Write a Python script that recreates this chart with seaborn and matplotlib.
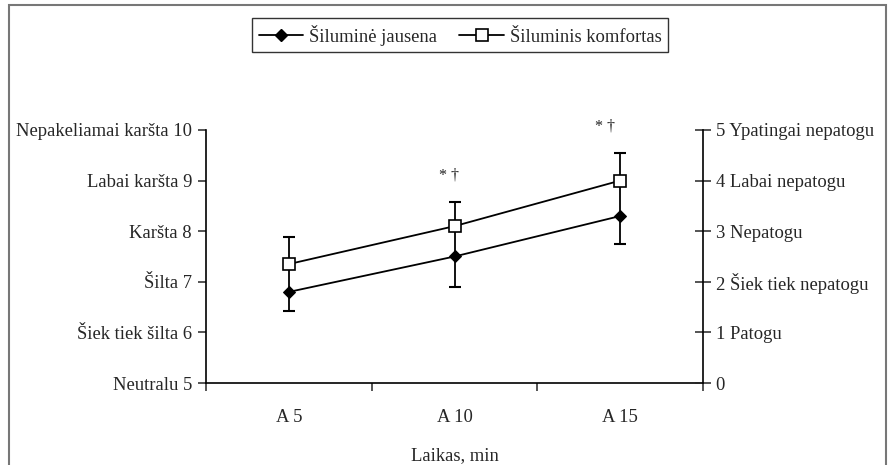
import numpy as np
import pandas as pd
import seaborn as sns
import matplotlib.pyplot as plt
from matplotlib.lines import Line2D
from matplotlib.patches import Rectangle

# Duomenys
laikas = ['A 5', 'A 10', 'A 15']
jausena = [6.80, 7.50, 8.30]          # kairė ašis (5-10)
jausena_sd = [0.38, 0.61, 0.55]       # rodoma tik žemyn
komfortas = [2.35, 3.10, 4.00]        # dešinė ašis (0-5)
komfortas_sd = [0.54, 0.48, 0.55]     # rodoma tik aukštyn
zvaigzdutes = ['', '* †', '* †']

kaires_zymes = ['Neutralu 5', 'Šiek tiek šilta 6', 'Šilta 7', 'Karšta 8',
                'Labai karšta 9', 'Nepakeliamai karšta 10']
desines_zymes = ['0', '1 Patogu', '2 Šiek tiek nepatogu', '3 Nepatogu',
                 '4 Labai nepatogu', '5 Ypatingai nepatogu']

sns.set_style('ticks')
plt.rcParams['font.family'] = ['Liberation Serif', 'DejaVu Serif']
plt.rcParams['font.size'] = 13.4

df = pd.DataFrame({'laikas': laikas, 'jausena': jausena, 'komfortas': komfortas})

fig = plt.figure(figsize=(8.9, 4.65), dpi=100)
ax = fig.add_axes([206 / 890, 1 - 383 / 465, (703 - 206) / 890, (383 - 130) / 465])
ax2 = ax.twinx()

x = np.arange(len(laikas))
poslinkis = 5  # dešinės ašies 0 atitinka kairės 5

# paklaidų linijos (nuo apatinės jausenos iki viršutinės komforto)
apacia = np.array(jausena) - np.array(jausena_sd)
virsus = np.array(komfortas) + poslinkis + np.array(komfortas_sd)
ax.vlines(x, apacia, virsus, color='black', lw=1.3, zorder=1)
ax.plot(x, apacia, ls='none', marker='_', ms=8, mew=1.5, color='black', zorder=1)
ax.plot(x, virsus, ls='none', marker='_', ms=8, mew=1.5, color='black', zorder=1)

sns.lineplot(data=df, x='laikas', y='jausena', ax=ax, color='black', lw=1.3,
             marker='D', markersize=6, markerfacecolor='black',
             markeredgecolor='black', zorder=3)
sns.lineplot(data=df, x='laikas', y='komfortas', ax=ax2, color='black', lw=1.3,
             marker='s', markersize=8, markerfacecolor='white',
             markeredgecolor='black', markeredgewidth=1.2, zorder=3)

# žvaigždutės virš paklaidų
postumiai = [(-4, 19), (-4, 19), (-11, 19)]
for xi, k, sd, t, d in zip(x, komfortas, komfortas_sd, zvaigzdutes, postumiai):
    if t:
        ax2.annotate(t, (xi, k + sd), xytext=d, textcoords='offset points',
                     ha='center', va='center', fontsize=11.5, color='#222222',
                     annotation_clip=False)

# ašys
ax.set_ylim(5, 10)
ax2.set_ylim(0, 5)
ax.set_xlim(-0.5, 2.5)
ax.set_yticks(range(5, 11))
ax.set_yticklabels(kaires_zymes)
ax2.set_yticks(range(0, 6))
ax2.set_yticklabels(desines_zymes)

ax.set_xticks([-0.5, 0.5, 1.5, 2.5])
ax.set_xticklabels([])
ax.set_xticks(x, minor=True)
ax.set_xticklabels(laikas, minor=True)
ax.tick_params(axis='x', which='major', direction='out', length=6, width=1.1)
ax.tick_params(axis='x', which='minor', length=0, pad=19)
ax.tick_params(axis='y', direction='out', length=6, width=1.1, pad=4)
ax2.tick_params(axis='y', direction='inout', length=12, width=1.1, pad=3)
ax.set_xlabel('Laikas, min', labelpad=15)
ax.set_ylabel('')
ax2.set_ylabel('')

for a in (ax, ax2):
    a.spines['top'].set_visible(False)
    for s in ('left', 'right', 'bottom'):
        a.spines[s].set_linewidth(1.2)
        a.spines[s].set_color('black')
ax.spines['right'].set_visible(False)
ax2.spines['left'].set_visible(False)
ax2.spines['bottom'].set_visible(False)

rankenos = [
    Line2D([], [], color='black', lw=1.3, marker='D', ms=6, mfc='black', mec='black'),
    Line2D([], [], color='black', lw=1.3, marker='s', ms=8, mfc='white', mec='black', mew=1.2),
]
leg = fig.legend(rankenos, ['Šiluminė jausena', 'Šiluminis komfortas'],
                 loc='center', bbox_to_anchor=(460 / 890, 1 - 35 / 465), ncol=2,
                 frameon=True, fancybox=False, edgecolor='black', handlelength=2.4,
                 columnspacing=1.2, handletextpad=0.3, borderpad=0.35)
leg.get_frame().set_linewidth(1.0)

# rėmelis aplink paveikslą
fig.patches.append(Rectangle((9 / 890, -0.05), (886 - 9) / 890, (465 - 5) / 465 + 0.05,
                             transform=fig.transFigure, fill=False,
                             edgecolor='#777777', lw=1.5))

fig.savefig('out.png', dpi=100)
